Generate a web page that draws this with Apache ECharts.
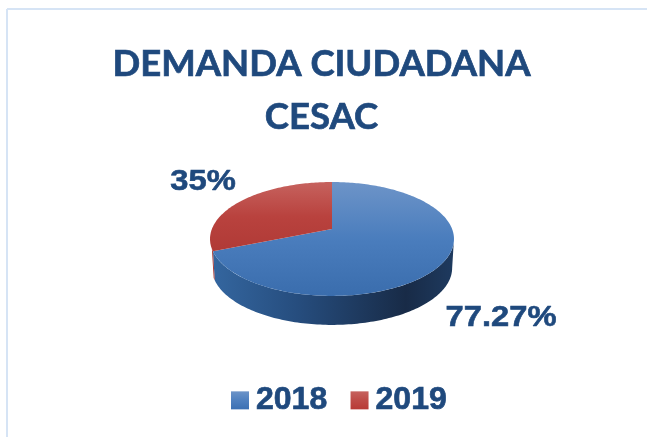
<!DOCTYPE html>
<html><head><meta charset="utf-8">
<style>html,body{margin:0;padding:0;background:#fff}#c{width:647px;height:437px}</style>
<script src="https://cdn.jsdelivr.net/npm/echarts@6/dist/echarts.min.js"></script>
</head><body><div id="c"></div>
<script>
const categories = ['2018', '2019'];
const seriesValues = [77.27, 35];
const sliceLabels = ['77.27%', '35%'];
const titleLines = ['DEMANDA CIUDADANA', 'CESAC'];

const total = seriesValues.reduce((a, b) => a + b, 0);
const CX = 332, CY = 229, RX = 120.1, RY = 55.2, TILT = 0.175, DEPTH = 29, FOOT = 0.985;
const NAVY = '#1f497d';
const vgrad = (a, b, c) => new echarts.graphic.LinearGradient(0, 0, 0, 1, [
  {offset: 0, color: a}, {offset: 0.5, color: b}, {offset: 1, color: c}]);
const topFill = [vgrad('#6d94c8', '#4a7dbd', '#3a6dad'), vgrad('#c6625e', '#b9423e', '#b03a36')];
const legendFill = [vgrad('#6d94c8', '#4f80bf', '#3b70b3'), vgrad('#c6625e', '#be4b47', '#b83a36')];
const sideFill = [
  new echarts.graphic.LinearGradient(0, 0, 1, 0, [
    {offset: 0, color: '#34669f'}, {offset: 0.35, color: '#264d7e'},
    {offset: 0.8, color: '#182b47'}, {offset: 1, color: '#1e3a5f'}]),
  '#a63733'
];
const labelPos = [[501, 318], [203, 182]];

// Circle point at clockwise angle a from 12 o'clock, seen in perspective.
function project(a) {
  const u = Math.sin(a), v = Math.cos(a), d = 1 + TILT * v;
  return [CX + RX * u / d, CY - RY * v / d];
}
function arc(a0, a1) {
  const n = Math.max(2, Math.ceil(Math.abs(a1 - a0) / 0.02)), pts = [];
  for (let i = 0; i <= n; i++) pts.push(project(a0 + (a1 - a0) * i / n));
  return pts;
}
// where the side wall meets the rim on each side
const SIL_R = Math.acos(-TILT), SIL_L = 1.39 * Math.PI;

function renderSlice(idx) {
  return function (params, api) {
    const value = api.value(0);
    const before = seriesValues.slice(0, idx).reduce((a, b) => a + b, 0);
    const a0 = before / total * 2 * Math.PI, a1 = (before + value) / total * 2 * Math.PI;
    const children = [];
    const s0 = Math.max(a0, SIL_R), s1 = Math.min(a1, SIL_L);
    if (s1 > s0) {
      const rim = arc(s0, s1);
      const low = rim.slice().reverse().map(p => [CX + (p[0] - CX) * FOOT, p[1] + DEPTH]);
      children.push({type: 'polygon', shape: {points: rim.concat(low)},
        style: {fill: sideFill[idx]}});
    }
    children.push({type: 'polygon', shape: {points: [[CX, CY]].concat(arc(a0, a1))},
      style: {fill: topFill[idx]}});
    children.push({type: 'text', x: labelPos[idx][0], y: labelPos[idx][1], scaleX: 1.09,
      style: {text: sliceLabels[idx], fill: NAVY, align: 'center', verticalAlign: 'middle',
        stroke: NAVY, lineWidth: 0.6, font: 'bold 30px "Liberation Sans"'}});
    return {type: 'group', children};
  };
}

const chart = echarts.init(document.getElementById('c'), null, {renderer: 'canvas'});
chart.setOption({
  animation: false,
  backgroundColor: '#ffffff',
  title: {
    text: titleLines.join('\n'), top: 33, left: 316.5, textAlign: 'center',
    textStyle: {color: NAVY, fontFamily: 'Lato', fontWeight: 'bold', fontSize: 36.5, lineHeight: 53,
      textBorderColor: NAVY, textBorderWidth: 0.7}
  },
  legend: {
    data: categories.map((n, i) => ({name: n, icon: 'rect', itemStyle: {color: legendFill[i]}})),
    left: 226, top: 379, itemWidth: 18, itemHeight: 18, itemGap: 23,
    textStyle: {color: NAVY, fontFamily: 'Liberation Sans', fontWeight: 'bold', fontSize: 32,
      padding: [0, 0, 0, 2], textBorderColor: NAVY, textBorderWidth: 0.7}
  },
  graphic: [
    {type: 'line', shape: {x1: 7, y1: 9, x2: 647, y2: 9}, style: {stroke: '#d6e4f5', lineWidth: 2}},
    {type: 'line', shape: {x1: 7, y1: 9, x2: 7, y2: 437}, style: {stroke: '#d6e4f5', lineWidth: 2}}
  ],
  series: categories.map((n, i) => ({
    type: 'custom', name: n, coordinateSystem: 'none', silent: true,
    itemStyle: {color: i === 0 ? '#4a7dbd' : '#b9423e'},
    encode: {value: 0},
    renderItem: renderSlice(i),
    data: [[seriesValues[i]]]
  }))
});
</script></body></html>
